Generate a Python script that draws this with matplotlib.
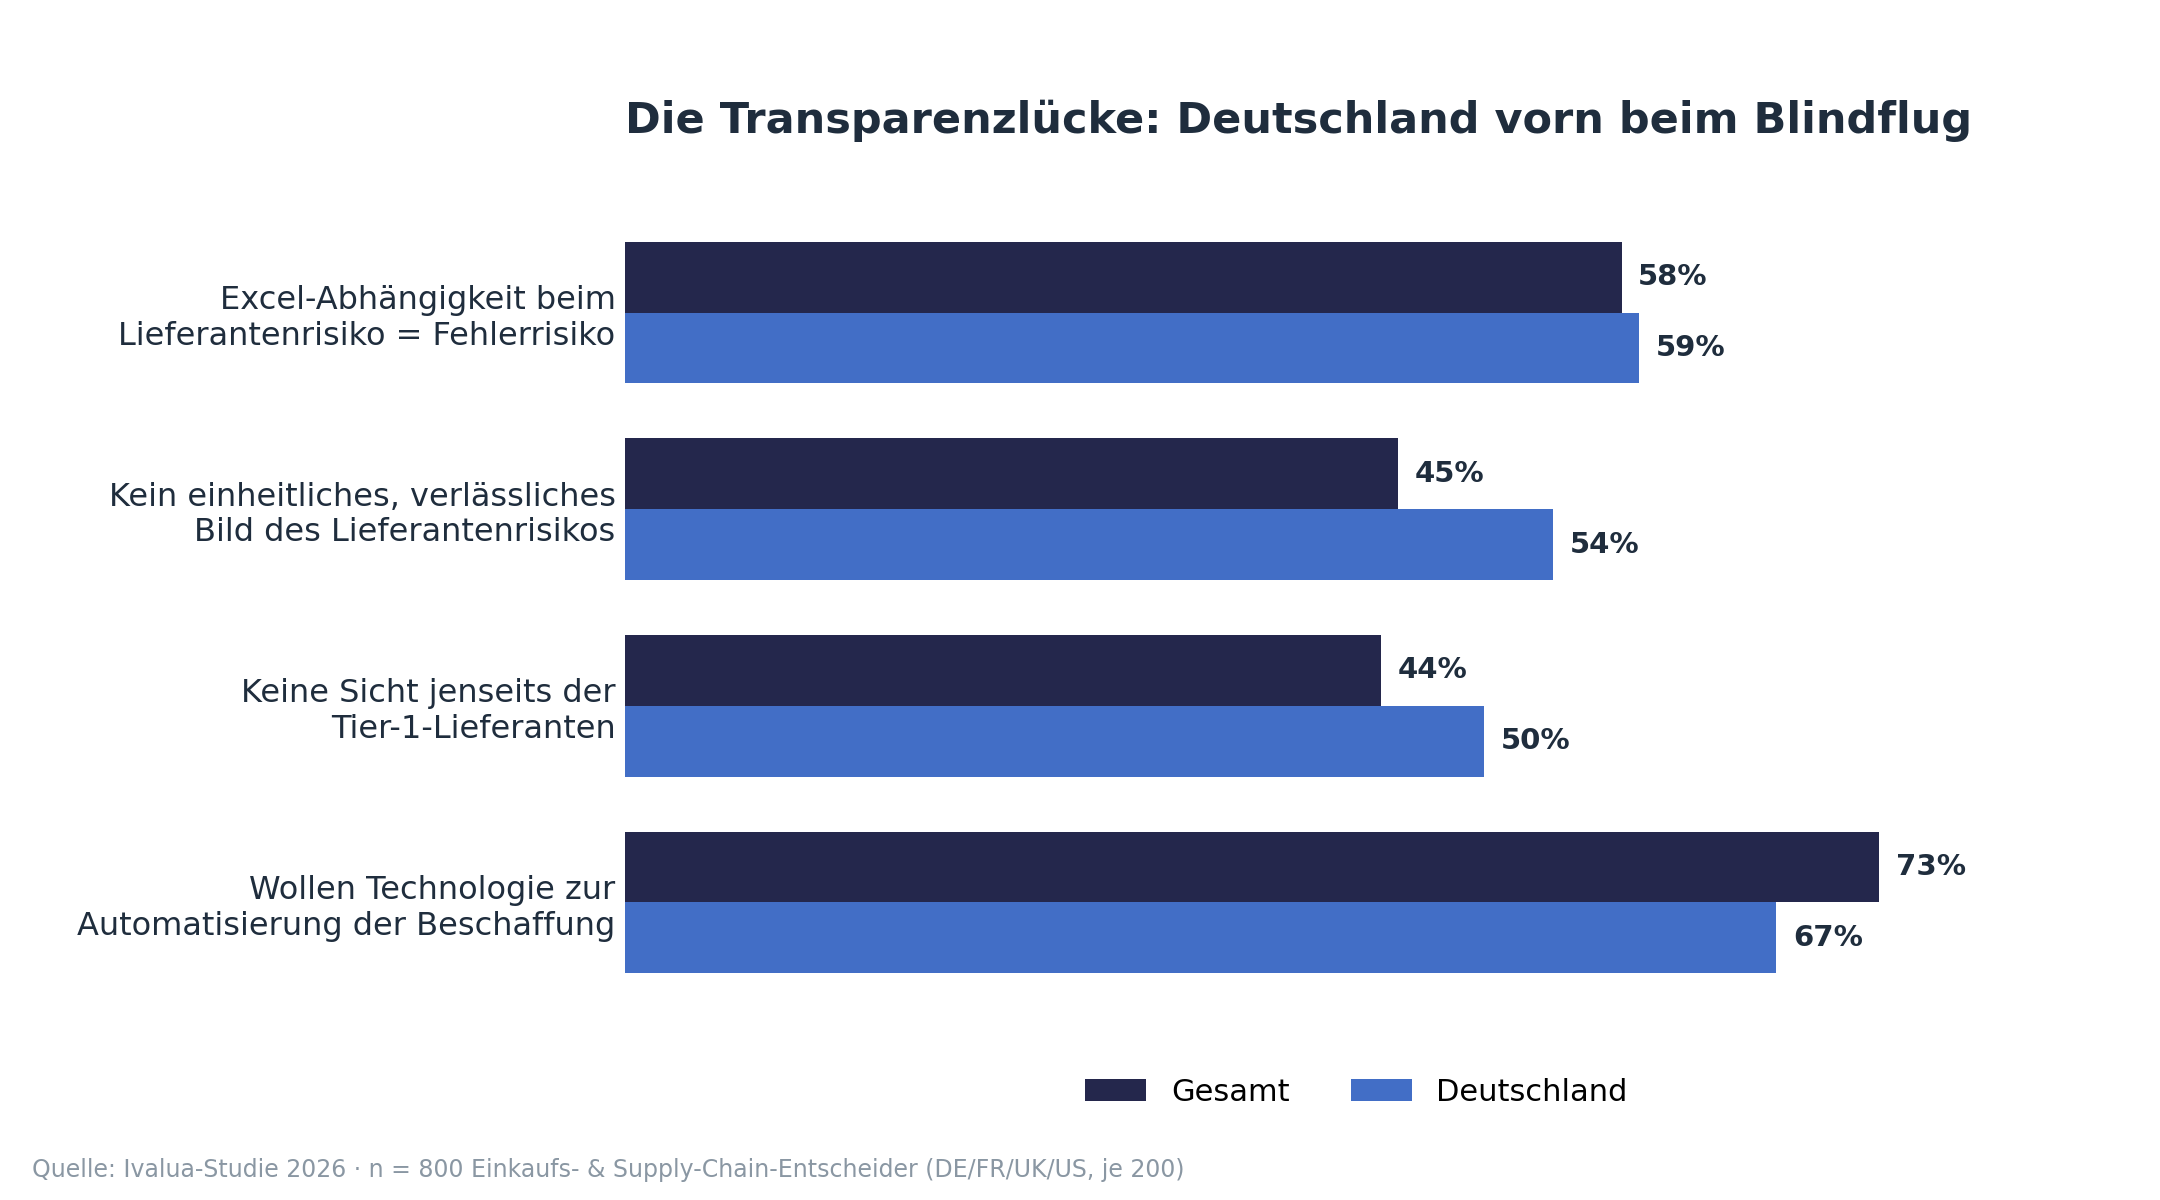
import matplotlib
matplotlib.use('Agg')
import matplotlib.pyplot as plt
import numpy as np

# data
categories = [
    "Excel-Abhängigkeit beim\nLieferantenrisiko = Fehlerrisiko",
    "Kein einheitliches, verlässliches\nBild des Lieferantenrisikos",
    "Keine Sicht jenseits der\nTier-1-Lieferanten",
    "Wollen Technologie zur\nAutomatisierung der Beschaffung",
]
gesamt = [58, 45, 44, 73]
deutschland = [59, 54, 50, 67]
series_names = ["Gesamt", "Deutschland"]

c_gesamt = '#24274c'
c_de = '#426ec6'
c_text = '#1f2d3d'

plt.rcParams['font.family'] = ['DejaVu Sans']

fig = plt.figure(figsize=(10.8, 6), dpi=200)
ax = fig.add_axes([0.2895, 0.1585, 0.6676, 0.6705])

y = np.arange(len(categories))
h = 0.36
b1 = ax.barh(y - h / 2, gesamt, height=h, color=c_gesamt, label=series_names[0])
b2 = ax.barh(y + h / 2, deutschland, height=h, color=c_de, label=series_names[1])

for bars, vals in [(b1, gesamt), (b2, deutschland)]:
    for bar, v in zip(bars, vals):
        ax.annotate(f"{v}%", (bar.get_width(), bar.get_y() + bar.get_height() / 2),
                    xytext=(6, 0), textcoords='offset points', va='center', ha='left',
                    fontsize=10.5, fontweight='bold', color=c_text)

ax.set_yticks(y)
ax.set_yticklabels(categories, fontsize=11.5, color=c_text)
ax.invert_yaxis()
ax.set_xlim(0, max(gesamt + deutschland) * 1.15)
ax.set_xticks([])
ax.tick_params(axis='y', length=0)
for s in ax.spines.values():
    s.set_visible(False)

ax.set_title("Die Transparenzlücke: Deutschland vorn beim Blindflug", loc='left',
             fontsize=15.5, fontweight='bold', color=c_text, pad=26)

ax.legend(loc='center', bbox_to_anchor=(0.507, -0.1025), ncol=2, frameon=False, fontsize=11)

fig.text(0.015, 0.025, "Quelle: Ivalua-Studie 2026 · n = 800 Einkaufs- & Supply-Chain-Entscheider (DE/FR/UK/US, je 200)",
         fontsize=8.5, color='#8a97a3', ha='left', va='center')

fig.savefig('out.png', dpi=200)
